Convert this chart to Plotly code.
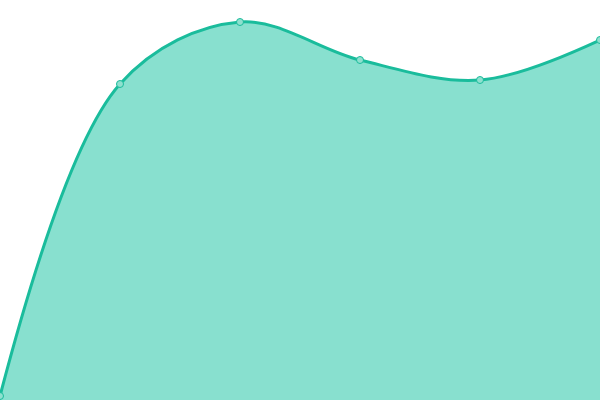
import plotly.graph_objects as go

x_vals = [0, 1, 2, 3, 4, 5]
y_vals = [1, 79, 94.5, 85, 80, 90]

fig = go.Figure()
fig.add_trace(go.Scatter(
    x=x_vals, y=y_vals,
    mode='lines+markers',
    line=dict(color='#1abc9c', width=3, shape='spline', smoothing=1),
    marker=dict(size=7, color='#8fe0cf', line=dict(color='#1abc9c', width=1)),
    fill='tozeroy', fillcolor='#88e0cf',
    cliponaxis=False,
))
fig.update_layout(
    width=600, height=400,
    margin=dict(l=0, r=0, t=0, b=0),
    paper_bgcolor='white', plot_bgcolor='white',
    showlegend=False,
    xaxis=dict(visible=False, range=[0, 5]),
    yaxis=dict(visible=False, range=[0, 100]),
)
# tira a margem padrao do body pra o grafico ocupar a janela toda
fig.write_html("out.html", config={'displayModeBar': False},
               post_script="document.body.style.margin='0';")
